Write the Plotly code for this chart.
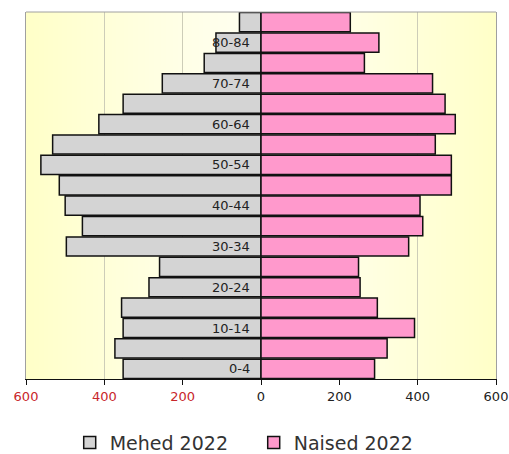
import base64, struct, zlib
import numpy as np
import plotly.graph_objects as go

# ---- data ----
age_groups = ["0-4", "5-9", "10-14", "15-19", "20-24", "25-29", "30-34", "35-39",
              "40-44", "45-49", "50-54", "55-59", "60-64", "65-69", "70-74",
              "75-79", "80-84", "85+"]
men_2022 = [352, 373, 352, 356, 286, 259, 497, 456, 500, 515, 562, 532, 414, 352,
            252, 145, 115, 55]
women_2022 = [290, 322, 392, 297, 253, 249, 377, 413, 406, 486, 486, 445, 496, 470,
              438, 264, 301, 228]
tick_values = [-600, -400, -200, 0, 200, 400, 600]
labelled_groups = age_groups[::2]


# ---- gradient background image (styling only) ----
def gradient_png(w=200, h=1, edge=(255, 255, 200), center=(255, 255, 240)):
    xs = np.linspace(-1, 1, w)
    t = np.abs(xs) ** 1.3
    rows = b""
    for _ in range(h):
        row = bytearray([0])
        for ti in t:
            for c in range(3):
                row.append(int(round(center[c] + (edge[c] - center[c]) * ti)))
        rows += bytes(row)

    def chunk(tag, data):
        c = struct.pack(">I", len(data)) + tag + data
        return c + struct.pack(">I", zlib.crc32(tag + data) & 0xFFFFFFFF)

    png = b"\x89PNG\r\n\x1a\n"
    png += chunk(b"IHDR", struct.pack(">IIBBBBB", w, h, 8, 2, 0, 0, 0))
    png += chunk(b"IDAT", zlib.compress(rows))
    png += chunk(b"IEND", b"")
    return "data:image/png;base64," + base64.b64encode(png).decode()


font_family = "DejaVu Sans, Verdana, sans-serif"

fig = go.Figure()
fig.add_trace(go.Bar(
    y=age_groups, x=[-v for v in men_2022], orientation="h", name="Mehed 2022",
    marker=dict(color="#D4D4D4", line=dict(color="#111111", width=1.5)),
))
fig.add_trace(go.Bar(
    y=age_groups, x=women_2022, orientation="h", name="Naised 2022",
    marker=dict(color="#FF99CC", line=dict(color="#111111", width=1.5)),
))

for g in labelled_groups:
    fig.add_annotation(x=0, y=g, xref="x", yref="y", text=g, showarrow=False,
                       xanchor="right", xshift=-9,
                       font=dict(family=font_family, size=13, color="#222222"))

ticktext = []
for v in tick_values:
    if v < 0:
        ticktext.append(f"<span style='color:#C8262B'>{abs(v)}</span>")
    else:
        ticktext.append(str(v))

fig.update_layout(
    width=509, height=454,
    margin=dict(l=26, r=13, t=12, b=75, autoexpand=False),
    paper_bgcolor="white",
    plot_bgcolor="rgba(0,0,0,0)",
    barmode="overlay",
    bargap=0.06,
    font=dict(family=font_family, size=13, color="#222222"),
    showlegend=True,
    legend=dict(orientation="h", x=0.093, xanchor="left", y=-0.122, yanchor="top",
                font=dict(family=font_family, size=19, color="#333333"),
                itemwidth=30, entrywidth=139, traceorder="normal"),
    images=[dict(source=gradient_png(), xref="paper", yref="paper", x=0, y=1,
                 sizex=1, sizey=1, sizing="stretch", layer="below",
                 xanchor="left", yanchor="top")],
    shapes=[dict(type="line", xref="paper", yref="paper", x0=0, x1=1, y0=1, y1=1,
                 line=dict(color="#A0A0A0", width=1))],
)
fig.update_xaxes(
    range=[-600, 600], tickvals=tick_values, ticktext=ticktext,
    showgrid=True, gridcolor="#CDCDB8", gridwidth=1, zeroline=False,
    showline=True, linecolor="#111111", linewidth=1.2,
    ticks="outside", ticklen=5, tickcolor="#111111",
    tickfont=dict(family=font_family, size=13, color="#222222"),
    ticklabeloverflow="allow",
    layer="above traces", fixedrange=True, automargin=False,
)
fig.update_yaxes(
    type="category", categoryorder="array", categoryarray=age_groups,
    showticklabels=False, showgrid=False, zeroline=False, automargin=False,
    showline=True, linecolor="#A0A0A0", linewidth=1, mirror=True, ticks="",
    fixedrange=True,
)

fig.write_html("out.html", config={"displayModeBar": False},
               post_script="document.body.style.margin='0px';document.body.style.padding='0px';")
